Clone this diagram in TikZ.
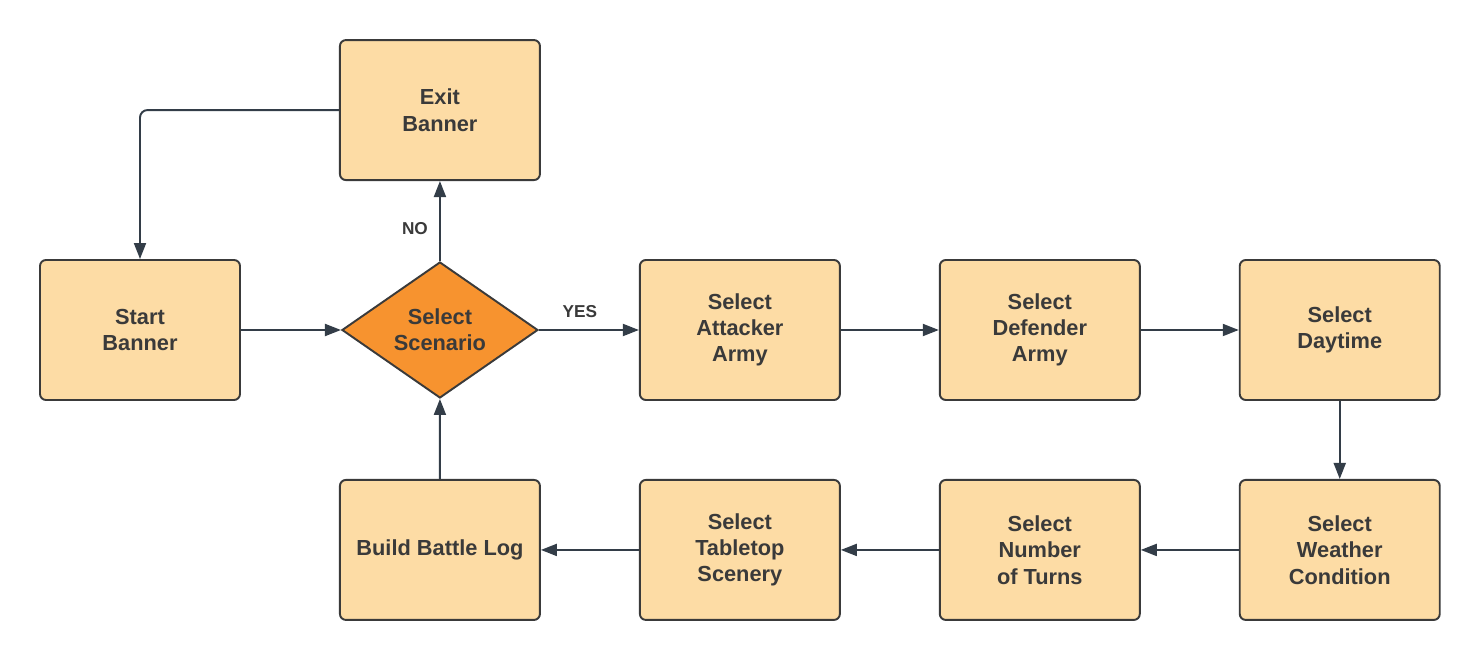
\documentclass[tikz,border=0pt]{standalone}
\usepackage{fontspec}
\setmainfont{Liberation Sans}
\usepackage{tikz}
\usetikzlibrary{arrows.meta,positioning,shapes.geometric}
\definecolor{boxfill}{HTML}{FDDCA5}
\definecolor{decfill}{HTML}{F7932F}
\definecolor{edgecol}{HTML}{3A3A3A}
\definecolor{linecol}{HTML}{333D48}
\definecolor{darktext}{HTML}{3A3A3A}
\tikzset{
  stepbox/.style={draw=edgecol,line width=1.1pt,rounded corners=1.2mm,fill=boxfill,minimum width=4cm,minimum height=2.8cm,align=center,text=darktext,font=\fontsize{12.4}{15}\selectfont\bfseries},
  decision/.style={diamond,draw=edgecol,line width=1.1pt,fill=decfill,minimum width=3.92cm,minimum height=2.72cm,inner sep=0pt,align=center,text=darktext,font=\fontsize{12.4}{15}\selectfont\bfseries},
  arrow/.style={-{Triangle[length=3.2mm,width=2.4mm]},line width=1.1pt,linecol},
  label/.style={font=\fontsize{9.8}{11}\selectfont\bfseries,text=darktext}
}

\begin{document}
\begin{tikzpicture}[node distance=1.56cm and 1.96cm]
  \useasboundingbox (-2.8,-6.6) rectangle (26.8,6.6);

  \node[stepbox] (start) at (0,0) {Start\\Banner};
  \node[decision,right=2cm of start] (scen) {Select\\Scenario};
  \node[stepbox,above=1.6cm of scen] (exit) {Exit\\Banner};

  % top row
  \node[stepbox,right=2cm of scen] (att) {Select\\Attacker\\Army};
  \node[stepbox,right=of att] (def) {Select\\Defender\\Army};
  \node[stepbox,right=of def] (day) {Select\\Daytime};

  % bottom row
  \node[stepbox,below=of day] (weather) {Select\\Weather\\Condition};
  \node[stepbox,left=of weather] (turns) {Select\\Number\\of Turns};
  \node[stepbox,left=of turns] (table) {Select\\Tabletop\\Scenery};
  \node[stepbox,left=of table] (log) {Build Battle Log};

  \draw[arrow] (start) -- (scen);
  \draw[arrow] (scen) -- node[label,above=3pt,pos=0.41] {YES} (att);
  \draw[arrow] (scen) -- node[label,left=3pt,pos=0.4] {NO} (exit);
  \draw[arrow,rounded corners=1.5mm] (exit.west) -| (start.north);
  \draw[arrow] (att) -- (def);
  \draw[arrow] (def) -- (day);
  \draw[arrow] (day) -- (weather);
  \draw[arrow] (weather) -- (turns);
  \draw[arrow] (turns) -- (table);
  \draw[arrow] (table) -- (log);
  \draw[arrow] (log) -- (scen);
\end{tikzpicture}
\end{document}
